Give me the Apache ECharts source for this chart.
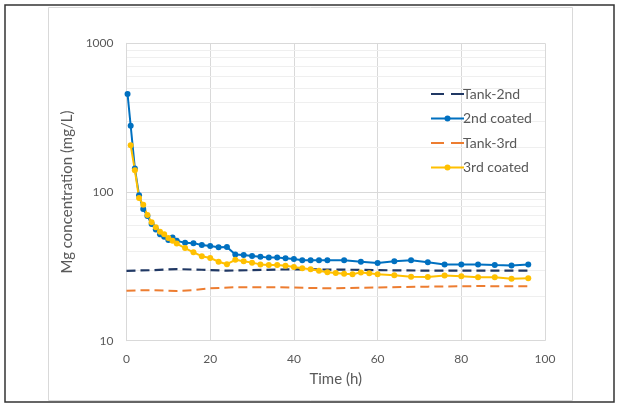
<!DOCTYPE html>
<html>
<head>
<meta charset="utf-8">
<script src="https://cdn.jsdelivr.net/npm/echarts@6/dist/echarts.min.js"></script>
<style>
html,body{margin:0;padding:0;background:#fff;}
#c{width:617px;height:408px;}
</style>
</head>
<body>
<div id="c"></div>
<script>
// ---- data ----
var legendNames = ['Tank-2nd', '2nd coated', 'Tank-3rd', '3rd coated'];
var xTicks = [0, 20, 40, 60, 80, 100];
var yTicks = [10, 100, 1000];
var minorGrid = [20, 30, 40, 50, 60, 70, 80, 90, 200, 300, 400, 500, 600, 700, 800, 900];

var tank2Time = [0, 6, 12, 18, 24, 30, 36, 42, 48, 54, 60, 66, 72, 78, 84, 90, 96];
var tank2Val  = [29.5, 29.8, 30.3, 30.0, 29.6, 29.8, 30.1, 30.2, 30.1, 30.0, 29.8, 29.7, 29.6, 29.6, 29.6, 29.6, 29.6];

var coat2Time = [0.25, 1, 2, 3, 4, 5, 6, 7, 8, 9, 10, 11, 12,
  14, 16, 18, 20, 22, 24, 26, 28, 30, 32, 34, 36, 38, 40, 42, 44, 46, 48,
  52, 56, 60, 64, 68, 72, 76, 80, 84, 88, 92, 96];
var coat2Val = [456, 279, 144, 95, 77, 69, 61, 56, 52, 50, 47.5, 49.5, 47,
  45.5, 45.3, 44, 43.3, 42.5, 42.7, 38, 37.7, 37.1, 36.7, 36.2, 36.2, 35.8, 35.4, 34.7, 34.7, 34.7, 34.7,
  34.7, 34.0, 33.3, 34.2, 34.7, 33.7, 32.6, 32.6, 32.6, 32.3, 32.1, 32.6];

var tank3Time = [0, 6, 12, 16, 20, 26, 36, 48, 60, 72, 84, 96];
var tank3Val  = [21.7, 21.9, 21.6, 21.9, 22.5, 22.9, 22.9, 22.5, 22.8, 23.1, 23.3, 23.2];

var coat3Time = [1, 2, 3, 4, 5, 6, 7, 8, 9, 10, 11, 12,
  14, 16, 18, 20, 22, 24, 26, 28, 30, 32, 34, 36, 38, 40, 42, 44, 46, 48, 50, 52, 54, 56, 58, 60,
  64, 68, 72, 76, 80, 84, 88, 92, 96];
var coat3Val = [206, 140, 91, 82, 70, 62.5, 58, 54, 52, 49, 47, 45,
  42, 39.3, 37, 36, 34, 32.7, 35, 34.2, 33.5, 32.6, 32.3, 32.3, 31.9, 31.3, 30.7, 30.2, 29.5, 28.9, 28.5, 28.2, 28.0, 28.8, 28.4, 28.0,
  27.5, 26.9, 26.8, 27.4, 27.1, 26.7, 26.7, 26.1, 26.3];

function pairs(t, v) { return t.map(function (x, i) { return [x, v[i]]; }); }

var FONT = 'Lato';
var TXT = '#595959';

var chart = echarts.init(document.getElementById('c'), null, {renderer: 'canvas'});
chart.setOption({
  animation: false,
  backgroundColor: '#fff',
  textStyle: {fontFamily: FONT},
  graphic: [
    {type: 'rect', shape: {x: 48.5, y: 7.5, width: 524, height: 393}, style: {fill: 'none', stroke: '#d9d9d9', lineWidth: 1}, silent: true},
    {type: 'rect', shape: {x: 5, y: 5, width: 609, height: 397}, style: {fill: 'none', stroke: '#333', lineWidth: 1.5}, silent: true}
  ],
  grid: {left: 126.5, right: 72, top: 43.3, bottom: 67.3},
  legend: {
    orient: 'vertical',
    left: 425, top: 81,
    itemWidth: 33, itemHeight: 7.5, itemGap: 8.5,
    data: [
      {name: legendNames[0], itemStyle: {opacity: 0}, lineStyle: {type: [13, 7]}},
      {name: legendNames[1]},
      {name: legendNames[2], itemStyle: {opacity: 0}, lineStyle: {type: [13, 7]}},
      {name: legendNames[3]}
    ],
    textStyle: {fontFamily: FONT, fontSize: 14, color: TXT, padding: [0, 0, 0, -6], lineHeight: 16}
  },
  xAxis: {
    type: 'value', min: xTicks[0], max: xTicks[xTicks.length - 1], interval: 20,
    name: 'Time (h)', nameLocation: 'middle', nameGap: 31,
    nameTextStyle: {fontFamily: FONT, fontSize: 15, color: TXT},
    axisLine: {show: true, lineStyle: {color: '#d9d9d9', width: 1}},
    axisTick: {show: false},
    axisLabel: {fontFamily: FONT, fontSize: 12, color: TXT, margin: 12},
    splitLine: {show: true, lineStyle: {color: '#d9d9d9', width: 1}}
  },
  yAxis: {
    type: 'log', logBase: 10, min: yTicks[0], max: yTicks[yTicks.length - 1],
    name: 'Mg concentration (mg/L)', nameLocation: 'middle', nameGap: 44,
    nameTextStyle: {fontFamily: FONT, fontSize: 15, color: TXT},
    axisLine: {show: true, lineStyle: {color: '#d9d9d9', width: 1}},
    axisTick: {show: false},
    axisLabel: {fontFamily: FONT, fontSize: 12, color: TXT, margin: 13,
      formatter: function (v) { return String(Math.round(v)); }},
    splitLine: {show: true, lineStyle: {color: '#d9d9d9', width: 1}}
  },
  series: [
    {
      name: 'Gridminor', type: 'line', data: [], silent: true, z: 0,
      markLine: {
        silent: true, symbol: ['none', 'none'], label: {show: false}, z: 0,
        lineStyle: {color: '#efefef', width: 1, type: 'solid'},
        data: minorGrid.map(function (v) { return {yAxis: v}; })
      }
    },
    {
      name: legendNames[0], type: 'line', data: pairs(tank2Time, tank2Val),
      showSymbol: false, symbol: 'none', smooth: false,
      lineStyle: {color: '#203864', width: 2.2, type: [9, 5]},
      itemStyle: {color: '#203864'}
    },
    {
      name: legendNames[2], type: 'line', data: pairs(tank3Time, tank3Val),
      showSymbol: false, symbol: 'none',
      lineStyle: {color: '#ED7D31', width: 2, type: [9, 5]},
      itemStyle: {color: '#ED7D31'}
    },
    {
      name: legendNames[1], type: 'line', data: pairs(coat2Time, coat2Val),
      symbol: 'circle', symbolSize: 6, showSymbol: true,
      lineStyle: {color: '#0070C0', width: 2},
      itemStyle: {color: '#0070C0'}
    },
    {
      name: legendNames[3], type: 'line', data: pairs(coat3Time, coat3Val),
      symbol: 'circle', symbolSize: 6, showSymbol: true,
      lineStyle: {color: '#FFC000', width: 2},
      itemStyle: {color: '#FFC000'}
    }
  ]
});
</script>
</body>
</html>
